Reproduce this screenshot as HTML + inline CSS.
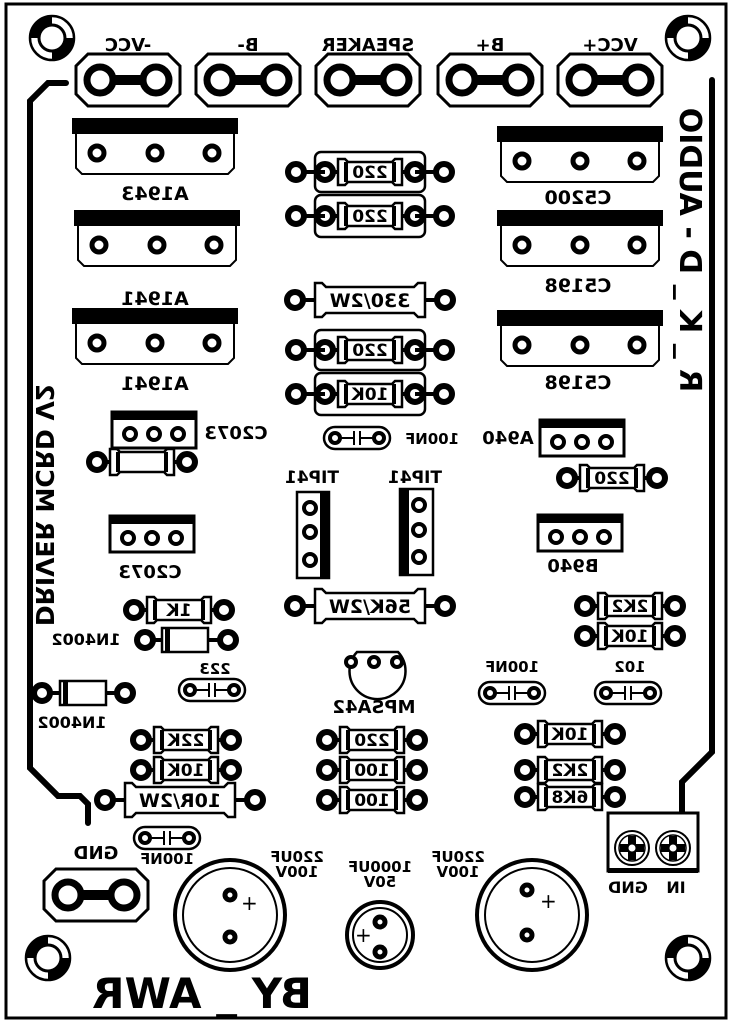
<!DOCTYPE html>
<html><head><meta charset="utf-8"><style>
html,body{margin:0;padding:0;background:#fff}
svg{display:block}
text{font-family:"DejaVu Sans","Liberation Sans",sans-serif;font-weight:bold;fill:#000}
</style></head><body>
<svg width="732" height="1024" viewBox="0 0 732 1024" xmlns="http://www.w3.org/2000/svg">
<defs>
<g id="pad"><circle r="8" fill="#fff" stroke="#000" stroke-width="6"/></g>
<g id="hole"><circle r="22" fill="#000"/><path d="M0,-22 A22,22 0 0 1 22,0 L0,0Z M0,22 A22,22 0 0 1 -22,0 L0,0Z" fill="#fff"/><circle r="22" fill="none" stroke="#000" stroke-width="2.5"/><circle r="13" fill="#fff" stroke="#000" stroke-width="3"/></g>
<g id="term"><path d="M-40,-26 H40 L52,-14 V14 L40,26 H-40 L-52,14 V-14Z" fill="#fff" stroke="#000" stroke-width="3"/><rect x="-28" y="-5" width="56" height="10" fill="#000"/><circle cx="-28" r="13" fill="#fff" stroke="#000" stroke-width="7"/><circle cx="28" r="13" fill="#fff" stroke="#000" stroke-width="7"/></g>
<g id="to220"><rect x="0" y="0" width="166" height="16" fill="#000"/><path d="M4,16 V50 L10,56 H156 L162,50 V16" fill="#fff" stroke="#000" stroke-width="2"/><circle cx="25" cy="35" r="7" fill="#fff" stroke="#000" stroke-width="5"/><circle cx="83" cy="35" r="7" fill="#fff" stroke="#000" stroke-width="5"/><circle cx="140" cy="35" r="7" fill="#fff" stroke="#000" stroke-width="5"/></g>
<g id="sm3"><rect x="0" y="0" width="84" height="36" fill="#fff" stroke="#000" stroke-width="3"/><rect x="0" y="0" width="84" height="8" fill="#000"/><circle cx="18" cy="22" r="6" fill="#fff" stroke="#000" stroke-width="4"/><circle cx="42" cy="22" r="6" fill="#fff" stroke="#000" stroke-width="4"/><circle cx="66" cy="22" r="6" fill="#fff" stroke="#000" stroke-width="4"/></g>
<g id="rs"><line x1="-45" x2="45" stroke="#000" stroke-width="4"/><path d="M-32,-13 H-25 L-22,-10 H22 L25,-13 H32 V13 H25 L22,10 H-22 L-25,13 H-32Z" fill="#fff" stroke="#000" stroke-width="2.5"/><rect x="-26" y="-10" width="4" height="20" fill="#000"/><rect x="22" y="-10" width="4" height="20" fill="#000"/><use href="#pad" x="-45"/><use href="#pad" x="45"/></g>
<g id="rb"><line x1="-75" x2="75" stroke="#000" stroke-width="4"/><path d="M-55,-17 H-48 L-44,-13 H44 L48,-17 H55 V17 H48 L44,13 H-44 L-48,17 H-55Z" fill="#fff" stroke="#000" stroke-width="2.5"/><use href="#pad" x="-75"/><use href="#pad" x="75"/></g>
<g id="cap"><rect x="-33" y="-11" width="66" height="22" rx="11" fill="#fff" stroke="#000" stroke-width="2.5"/><line x1="-22" x2="-3" stroke="#000" stroke-width="2"/><line x1="3" x2="22" stroke="#000" stroke-width="2"/><line x1="-3" y1="-7" x2="-3" y2="7" stroke="#000" stroke-width="2"/><line x1="3" y1="-7" x2="3" y2="7" stroke="#000" stroke-width="2"/><circle cx="-22" r="5" fill="#fff" stroke="#000" stroke-width="4"/><circle cx="22" r="5" fill="#fff" stroke="#000" stroke-width="4"/></g>
</defs>
<rect x="6" y="4" width="720" height="1014" fill="#fff" stroke="#000" stroke-width="3"/>
<use href="#hole" x="52" y="38"/><use href="#hole" x="688" y="38"/><use href="#hole" x="48" y="958"/><use href="#hole" x="688" y="958"/>
<path d="M66,83 H48 L30,101 V768 L58,796 H80 L88,804 V823" fill="none" stroke="#000" stroke-width="6" stroke-linecap="round"/>
<path d="M712,80 V752 L682,782 V812" fill="none" stroke="#000" stroke-width="6" stroke-linecap="round"/>
<use href="#term" x="128" y="80"/><use href="#term" x="248" y="80"/><use href="#term" x="368" y="80"/><use href="#term" x="490" y="80"/><use href="#term" x="610" y="80"/>
<use href="#term" x="96" y="895"/>
<g font-size="18">
<text transform="translate(128,51) scale(-1,1)" text-anchor="middle">-VCC</text>
<text transform="translate(248,51) scale(-1,1)" text-anchor="middle">B-</text>
<text transform="translate(368,51) scale(-1,1)" text-anchor="middle">SPEAKER</text>
<text transform="translate(490,51) scale(-1,1)" text-anchor="middle">B+</text>
<text transform="translate(610,51) scale(-1,1)" text-anchor="middle">VCC+</text>
<text transform="translate(96,859) scale(-1,1)" text-anchor="middle">GND</text>
</g>
<use href="#to220" x="72" y="118"/><use href="#to220" x="74" y="210"/><use href="#to220" x="72" y="308"/>
<use href="#to220" x="497" y="126"/><use href="#to220" x="497" y="210"/><use href="#to220" x="497" y="310"/>
<g font-size="19">
<text transform="translate(155,200) scale(-1,1)" text-anchor="middle">A1943</text>
<text transform="translate(155,305) scale(-1,1)" text-anchor="middle">A1941</text>
<text transform="translate(155,390) scale(-1,1)" text-anchor="middle">A1941</text>
<text transform="translate(578,204) scale(-1,1)" text-anchor="middle">C5200</text>
<text transform="translate(578,292) scale(-1,1)" text-anchor="middle">C5198</text>
<text transform="translate(578,389) scale(-1,1)" text-anchor="middle">C5198</text>
</g>
<g stroke="#000" stroke-width="2.5" fill="none">
<rect x="315" y="152" width="110" height="40" rx="6"/><rect x="315" y="195" width="110" height="42" rx="6"/>
<rect x="315" y="330" width="110" height="40" rx="6"/><rect x="315" y="373" width="110" height="42" rx="6"/>
</g>
<g font-size="17">
<use href="#rs" x="370" y="172"/><use href="#rs" x="370" y="216"/><use href="#rs" x="370" y="350"/><use href="#rs" x="370" y="394"/>
<line x1="296" y1="172" x2="325" y2="172" stroke="#000" stroke-width="4"/><line x1="415" y1="172" x2="444" y2="172" stroke="#000" stroke-width="4"/>
<line x1="296" y1="216" x2="325" y2="216" stroke="#000" stroke-width="4"/><line x1="415" y1="216" x2="444" y2="216" stroke="#000" stroke-width="4"/>
<line x1="296" y1="350" x2="325" y2="350" stroke="#000" stroke-width="4"/><line x1="415" y1="350" x2="444" y2="350" stroke="#000" stroke-width="4"/>
<line x1="296" y1="394" x2="325" y2="394" stroke="#000" stroke-width="4"/><line x1="415" y1="394" x2="444" y2="394" stroke="#000" stroke-width="4"/>
<use href="#pad" x="296" y="172"/><use href="#pad" x="444" y="172"/><use href="#pad" x="296" y="216"/><use href="#pad" x="444" y="216"/>
<use href="#pad" x="296" y="350"/><use href="#pad" x="444" y="350"/><use href="#pad" x="296" y="394"/><use href="#pad" x="444" y="394"/>
<text transform="translate(370,178) scale(-1,1)" text-anchor="middle">220</text>
<text transform="translate(370,222) scale(-1,1)" text-anchor="middle">220</text>
<text transform="translate(370,356) scale(-1,1)" text-anchor="middle">220</text>
<text transform="translate(370,400) scale(-1,1)" text-anchor="middle">10K</text>
</g>
<use href="#rb" x="370" y="300"/><use href="#rb" x="370" y="606"/><use href="#rb" x="180" y="800"/>
<g font-size="19">
<text transform="translate(370,307) scale(-1,1)" text-anchor="middle">330/2W</text>
<text transform="translate(370,613) scale(-1,1)" text-anchor="middle">56K/2W</text>
<text transform="translate(180,807) scale(-1,1)" text-anchor="middle">10R/2W</text>
</g>
<use href="#cap" x="357" y="438"/><use href="#cap" x="212" y="690"/><use href="#cap" x="512" y="693"/><use href="#cap" x="628" y="693"/><use href="#cap" x="167" y="838"/>
<g font-size="15">
<text transform="translate(432,444) scale(-1,1)" text-anchor="middle">100NF</text>
<text transform="translate(215,674) scale(-1,1)" text-anchor="middle">223</text>
<text transform="translate(512,672) scale(-1,1)" text-anchor="middle">100NF</text>
<text transform="translate(630,672) scale(-1,1)" text-anchor="middle">102</text>
<text transform="translate(167,864) scale(-1,1)" text-anchor="middle">100NF</text>
</g>
<use href="#sm3" x="112" y="412"/><use href="#sm3" x="110" y="516"/><use href="#sm3" x="540" y="420"/><use href="#sm3" x="538" y="515"/>
<g font-size="18">
<text transform="translate(236,439) scale(-1,1)" text-anchor="middle">C2073</text>
<text transform="translate(150,578) scale(-1,1)" text-anchor="middle">C2073</text>
<text transform="translate(508,444) scale(-1,1)" text-anchor="middle">A940</text>
<text transform="translate(573,572) scale(-1,1)" text-anchor="middle">B940</text>
</g>
<use href="#rs" x="142" y="462"/>
<g font-size="17">
<use href="#rs" x="612" y="478"/><text transform="translate(612,484) scale(-1,1)" text-anchor="middle">220</text>
<use href="#rs" x="179" y="610"/><text transform="translate(179,616) scale(-1,1)" text-anchor="middle">1K</text>
<use href="#rs" x="630" y="606"/><text transform="translate(630,612) scale(-1,1)" text-anchor="middle">2K2</text>
<use href="#rs" x="630" y="636"/><text transform="translate(630,642) scale(-1,1)" text-anchor="middle">10K</text>
<use href="#rs" x="186" y="740"/><text transform="translate(186,746) scale(-1,1)" text-anchor="middle">22K</text>
<use href="#rs" x="186" y="770"/><text transform="translate(186,776) scale(-1,1)" text-anchor="middle">10K</text>
<use href="#rs" x="372" y="740"/><text transform="translate(372,746) scale(-1,1)" text-anchor="middle">220</text>
<use href="#rs" x="372" y="770"/><text transform="translate(372,776) scale(-1,1)" text-anchor="middle">100</text>
<use href="#rs" x="372" y="800"/><text transform="translate(372,806) scale(-1,1)" text-anchor="middle">100</text>
<use href="#rs" x="570" y="734"/><text transform="translate(570,740) scale(-1,1)" text-anchor="middle">10K</text>
<use href="#rs" x="570" y="770"/><text transform="translate(570,776) scale(-1,1)" text-anchor="middle">2K2</text>
<use href="#rs" x="570" y="797"/><text transform="translate(570,803) scale(-1,1)" text-anchor="middle">6K8</text>
</g>
<g>
<line x1="145" y1="640" x2="230" y2="640" stroke="#000" stroke-width="4"/><rect x="162" y="628" width="46" height="24" fill="#fff" stroke="#000" stroke-width="2.5"/><rect x="165" y="628" width="5" height="24" fill="#000"/><use href="#pad" x="145" y="640"/><use href="#pad" x="228" y="640"/>
<line x1="42" y1="693" x2="125" y2="693" stroke="#000" stroke-width="4"/><rect x="60" y="681" width="46" height="24" fill="#fff" stroke="#000" stroke-width="2.5"/><rect x="63" y="681" width="5" height="24" fill="#000"/><use href="#pad" x="42" y="693"/><use href="#pad" x="125" y="693"/>
</g>
<g font-size="16">
<text transform="translate(86,645) scale(-1,1)" text-anchor="middle">1N4002</text>
<text transform="translate(72,728) scale(-1,1)" text-anchor="middle">1N4002</text>
</g>
<rect x="297" y="492" width="32" height="86" fill="#fff" stroke="#000" stroke-width="2.5"/><rect x="320" y="492" width="9" height="86" fill="#000"/>
<rect x="400" y="489" width="33" height="86" fill="#fff" stroke="#000" stroke-width="2.5"/><rect x="400" y="489" width="9" height="86" fill="#000"/>
<g fill="#fff" stroke="#000" stroke-width="4"><circle cx="310" cy="508" r="6"/><circle cx="310" cy="532" r="6"/><circle cx="310" cy="560" r="6"/><circle cx="419" cy="505" r="6"/><circle cx="419" cy="530" r="6"/><circle cx="419" cy="557" r="6"/></g>
<g font-size="17"><text transform="translate(312,483) scale(-1,1)" text-anchor="middle">TIP41</text><text transform="translate(415,483) scale(-1,1)" text-anchor="middle">TIP41</text></g>
<path d="M357,652 A28,28 0 1 0 398,652 Z" fill="#fff" stroke="#000" stroke-width="2.5"/>
<g fill="#fff" stroke="#000" stroke-width="4"><circle cx="351" cy="662" r="5"/><circle cx="374" cy="662" r="5"/><circle cx="397" cy="662" r="5"/></g>
<text font-size="18" transform="translate(374,713) scale(-1,1)" text-anchor="middle">MPSA42</text>
<rect x="608" y="813" width="90" height="58" fill="#fff" stroke="#000" stroke-width="3"/><rect x="608" y="868" width="90" height="5" fill="#000"/>
<g><circle cx="632" cy="848" r="17" fill="#fff" stroke="#000" stroke-width="2"/><circle cx="632" cy="848" r="13" fill="#fff" stroke="#000" stroke-width="1.5"/><path d="M628,836h8v8h8v8h-8v8h-8v-8h-8v-8h8z" fill="#000"/><circle cx="632" cy="848" r="3.5" fill="#fff"/>
<circle cx="673" cy="848" r="17" fill="#fff" stroke="#000" stroke-width="2"/><circle cx="673" cy="848" r="13" fill="#fff" stroke="#000" stroke-width="1.5"/><path d="M669,836h8v8h8v8h-8v8h-8v-8h-8v-8h8z" fill="#000"/><circle cx="673" cy="848" r="3.5" fill="#fff"/></g>
<g font-size="16"><text transform="translate(628,893) scale(-1,1)" text-anchor="middle">GND</text><text transform="translate(676,893) scale(-1,1)" text-anchor="middle">IN</text></g>
<g fill="none" stroke="#000"><circle cx="230" cy="915" r="55" stroke-width="4"/><circle cx="230" cy="915" r="47" stroke-width="2"/>
<circle cx="532" cy="915" r="55" stroke-width="4"/><circle cx="532" cy="915" r="47" stroke-width="2"/>
<circle cx="380" cy="935" r="33" stroke-width="4"/><circle cx="380" cy="935" r="27" stroke-width="2"/></g>
<g fill="#fff" stroke="#000" stroke-width="5"><circle cx="230" cy="895" r="5"/><circle cx="230" cy="937" r="5"/><circle cx="527" cy="890" r="5"/><circle cx="527" cy="935" r="5"/><circle cx="380" cy="922" r="5"/><circle cx="380" cy="952" r="5"/></g>
<g font-size="20"><text x="241" y="910" style="font-weight:normal">+</text><text x="540" y="908" style="font-weight:normal">+</text><text x="355" y="942" style="font-weight:normal">+</text></g>
<g font-size="15">
<text transform="translate(297,862) scale(-1,1)" text-anchor="middle">220UF</text><text transform="translate(297,877) scale(-1,1)" text-anchor="middle">100V</text>
<text transform="translate(458,862) scale(-1,1)" text-anchor="middle">220UF</text><text transform="translate(458,877) scale(-1,1)" text-anchor="middle">100V</text>
<text transform="translate(380,872) scale(-1,1)" text-anchor="middle">1000UF</text><text transform="translate(380,887) scale(-1,1)" text-anchor="middle">50V</text>
</g>
<text font-size="42" transform="translate(202,1008) scale(-1,1)" text-anchor="middle">BY _ AWR</text>
<text font-size="25" transform="translate(36,505) rotate(90) scale(-1,1)" text-anchor="middle">DRIVER MCRD V2</text>
<text font-size="30" transform="translate(680,250) rotate(90) scale(-1,1)" text-anchor="middle">R _ K _ D - AUDIO</text>
</svg>
</body></html>
